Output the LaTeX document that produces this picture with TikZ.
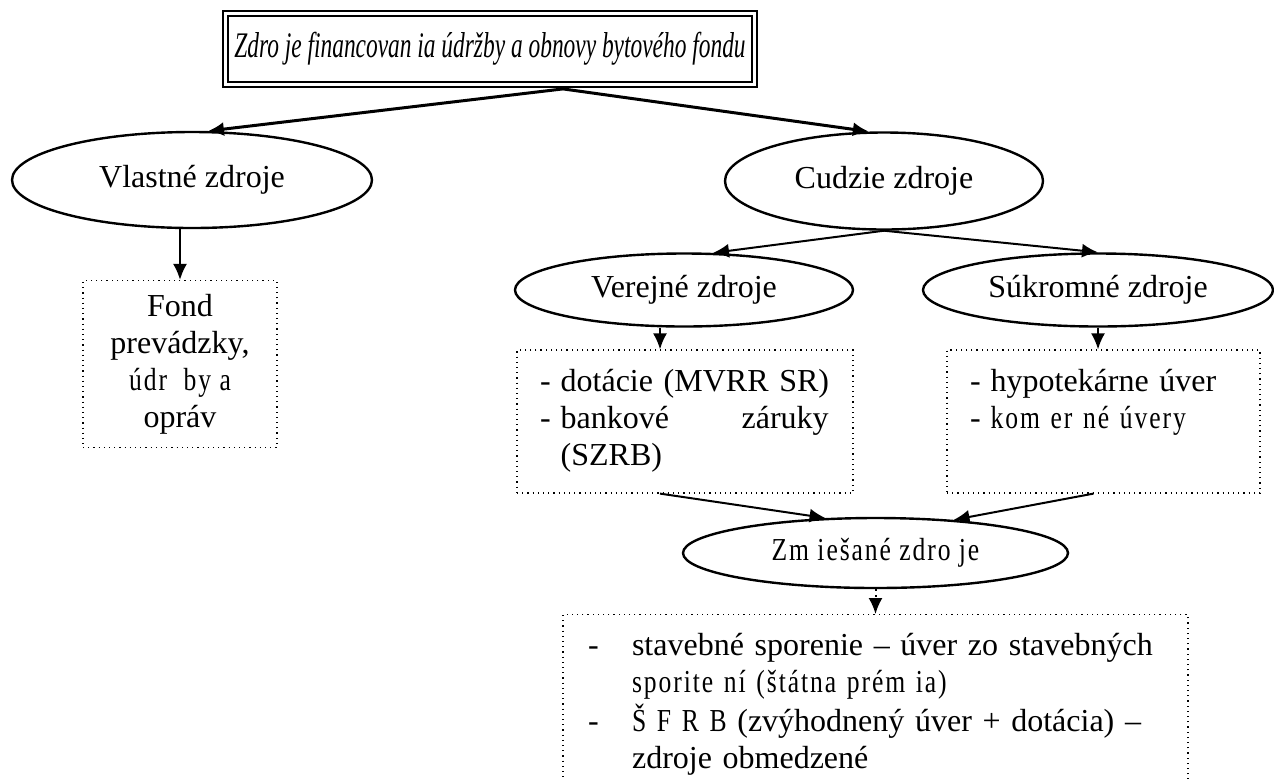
\documentclass[tikz,border=0pt]{standalone}
\usepackage{fontspec}
\setmainfont{Liberation Serif}
\newfontfamily\narrowfont[FakeStretch=0.8,LetterSpace=6]{Liberation Serif}
\newfontfamily\headfont[FakeStretch=0.65]{Liberation Serif}
\usetikzlibrary{shapes.geometric,arrows.meta}

\tikzset{
  oval/.style={ellipse,draw,line width=1.2pt,inner sep=0pt},
  dotbox/.style={draw,dotted,line width=0.6pt,inner sep=0pt},
  link/.style={-{Latex[length=8pt,width=7pt]},line width=1pt},
  mainlink/.style={link,line width=1.5pt},
}

\begin{document}
\begin{tikzpicture}[x=0.5pt,y=-0.5pt,font=\fontsize{16}{18.5}\selectfont]
  \useasboundingbox (0,0) rectangle (1274,778);
  \clip (0,0) rectangle (1274,778);

  % title
  \node[draw,double,double distance=1.5pt,line width=0.9pt,minimum width=264.7pt,minimum height=35.7pt] (title) at (490,49)
    {\headfont\itshape\fontsize{18}{21}\selectfont Zdro je financovan ia údržby a obnovy bytového fondu};

  % first level
  \node[oval,minimum width=180pt,minimum height=48pt] (vlastne) at (192,180) {Vlastné zdroje};
  \node[oval,minimum width=159pt,minimum height=48.5pt] (cudzie) at (884,181) {Cudzie zdroje};

  \node[dotbox,minimum width=97pt,minimum height=83.5pt,align=center] (fond) at (180,364)
    {Fond\\prevádzky,\\{\narrowfont údr~ by a}\\opráv};

  % second level
  \node[oval,minimum width=169pt,minimum height=36.5pt] (verejne) at (684,290) {Verejné zdroje};
  \node[oval,minimum width=175pt,minimum height=36.5pt] (sukromne) at (1098,290) {Súkromné zdroje};

  \node[dotbox,minimum width=168pt,minimum height=71.5pt,text width=145pt] (verbox) at (685,421.5)
    {\begin{tabular}{@{}l@{\hspace{5pt}}l@{}}
      - & dotácie (MVRR SR)\\
      - & \hbox to 134pt{bankové\hfill záruky}\\
        & (SZRB)
    \end{tabular}};
  \node[dotbox,minimum width=156.5pt,minimum height=71.5pt,text width=133.5pt] (sukbox) at (1103.5,421.5)
    {\begin{tabular}{@{}l@{\hspace{5pt}}l@{}}
      - & hypotekárne úver\\
      - & {\narrowfont kom er né úvery}\\
        & 
    \end{tabular}};

  % mixed
  \node[oval,minimum width=192.5pt,minimum height=35pt] (zmies) at (875.5,553) {\narrowfont Zm iešané zdro je};
  \node[dotbox,anchor=north,minimum width=312.5pt,text width=287.5pt,inner ysep=7.5pt] (zmbox) at (875.5,614)
    {\begin{tabular}{@{}l@{\hspace{16.7pt}}l@{}}
      - & stavebné sporenie -- úver zo stavebných\\
        & {\narrowfont sporite ní (štátna prém ia)}\\
      - & {\narrowfont Š F R B} (zvýhodnený úver + dotácia) --\\
        & zdroje obmedzené
    \end{tabular}};

  % arrows
  \coordinate (split) at ([xshift=36.5pt,yshift=-1.65pt]title.south);
  \draw[mainlink] (split) -- (vlastne.72);
  \draw[mainlink] (split) -- (cudzie.107);
  \draw[link] (vlastne.south -| fond.north) -- (fond.north);
  \draw[link] (cudzie.south) -- (verejne.52);
  \draw[link] (cudzie.south) -- (sukromne.north);
  \draw[link] ([xshift=-12pt]verejne.south) -- ([xshift=-12.5pt]verbox.north);
  \draw[link] (sukromne.south) -- (sukromne.south |- sukbox.north);
  \draw[link] ([xshift=-12.5pt]verbox.south) -- (zmies.145);
  \draw[link] ([xshift=-5pt]sukbox.south) -- (zmies.23);
  \draw[link,dotted] (zmies.south) -- (zmbox.north);
\end{tikzpicture}
\end{document}
